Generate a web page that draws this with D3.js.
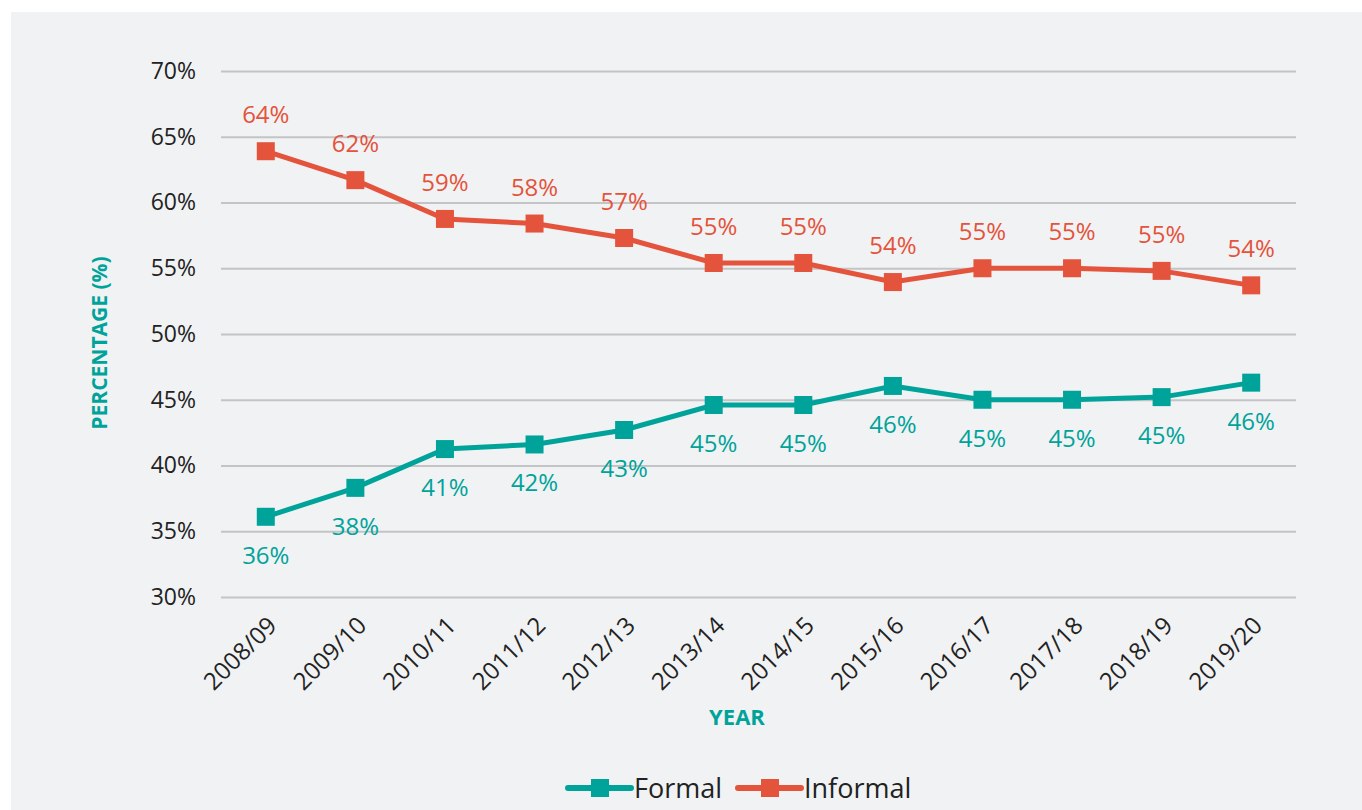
<!DOCTYPE html>
<html>
<head>
<meta charset="utf-8">
<script src="https://cdn.jsdelivr.net/npm/d3@7"></script>
<style>
  body { margin: 0; background: #fff; }
  svg { display: block; font-family: "Open Sans", sans-serif; }
</style>
</head>
<body>
<div id="chart"></div>
<script>
var years = ["2008/09", "2009/10", "2010/11", "2011/12", "2012/13", "2013/14",
    "2014/15", "2015/16", "2016/17", "2017/18", "2018/19", "2019/20"]

var informal = [63.9, 61.7, 58.75, 58.4, 57.3, 55.4, 55.4, 53.95, 55.0, 55.0, 54.8, 53.7]
var formal = [36.1, 38.3, 41.25, 41.6, 42.7, 44.6, 44.6, 46.05, 45.0, 45.0, 45.2, 46.3]

var yTicks = [30, 35, 40, 45, 50, 55, 60, 65, 70]

var teal = "#00a39a"
var red = "#e4533b"

var width = 1362
var height = 810

var svg = d3.select("#chart").append("svg")
    .attr("width", width)
    .attr("height", height)

svg.append("rect")
    .attr("x", 11).attr("y", 12)
    .attr("width", width - 11).attr("height", height - 12)
    .attr("fill", "#f1f2f4")

var x = d3.scalePoint()
    .domain(years)
    .range([221, 1296])
    .padding(0.5)

var y = d3.scaleLinear()
    .domain([30, 70])
    .range([597, 71])

// gridlines + y labels
var yAxis = svg.append("g")
    .attr("transform", "translate(221,0)")
    .call(d3.axisLeft(y).tickValues(yTicks).tickSize(-1075).tickPadding(25)
        .tickFormat(d => d + "%"))
yAxis.select(".domain").remove()
yAxis.selectAll(".tick line").attr("stroke", "#c4c4c6").attr("stroke-width", 2)
yAxis.selectAll(".tick text")
    .attr("fill", "#222").style("font-size", "23px")
    .style("font-family", "'Open Sans', sans-serif")

// x labels
var xAxis = svg.append("g")
    .attr("transform", "translate(0,597)")
    .call(d3.axisBottom(x).tickSize(0).tickPadding(0))
xAxis.select(".domain").remove()
xAxis.selectAll(".tick text")
    .attr("fill", "#222").style("font-size", "24px")
    .style("font-family", "'Open Sans', sans-serif")
    .attr("text-anchor", "end")
    .attr("dy", null)
    .attr("transform", "translate(12,30) rotate(-45)")

// axis titles
svg.append("text")
    .attr("transform", "translate(107,343) rotate(-90)")
    .attr("text-anchor", "middle")
    .attr("fill", teal)
    .style("font-size", "21px").style("font-weight", "bold")
    .text("PERCENTAGE (%)")

svg.append("text")
    .attr("x", 737).attr("y", 725)
    .attr("text-anchor", "middle")
    .attr("fill", teal)
    .style("font-size", "22px").style("font-weight", "bold")
    .text("YEAR")

var line = d3.line()
    .x((d, i) => x(years[i]))
    .y(d => y(d))

var series = [
    { name: "Formal", values: formal, color: teal, off: 39 },
    { name: "Informal", values: informal, color: red, off: -36 }
]

var ms = 18

series.forEach(function(s) {
    svg.append("path")
        .datum(s.values)
        .attr("d", line)
        .attr("fill", "none")
        .attr("stroke", s.color)
        .attr("stroke-width", 5)

    svg.selectAll(null)
        .data(s.values)
        .enter().append("rect")
        .attr("x", (d, i) => x(years[i]) - ms / 2)
        .attr("y", d => y(d) - ms / 2)
        .attr("width", ms).attr("height", ms)
        .attr("fill", s.color)

    svg.selectAll(null)
        .data(s.values)
        .enter().append("text")
        .attr("x", (d, i) => x(years[i]))
        .attr("y", d => y(d) + s.off + 8)
        .attr("text-anchor", "middle")
        .attr("fill", s.color)
        .style("font-size", "24px")
        .text(d => Math.round(d) + "%")
})

// legend
var legend = [
    { name: "Formal", color: teal, x: 568 },
    { name: "Informal", color: red, x: 738 }
]
legend.forEach(function(l) {
    var g = svg.append("g").attr("transform", "translate(" + l.x + ",788)")
    g.append("line")
        .attr("x1", 0).attr("x2", 63)
        .attr("stroke", l.color).attr("stroke-width", 6)
        .attr("stroke-linecap", "round")
    g.append("rect")
        .attr("x", 23).attr("y", -9).attr("width", 18).attr("height", 18)
        .attr("fill", l.color)
    g.append("text")
        .attr("x", 66).attr("y", 10)
        .attr("fill", "#222")
        .style("font-size", "27px")
        .text(l.name)
})
</script>
</body>
</html>
